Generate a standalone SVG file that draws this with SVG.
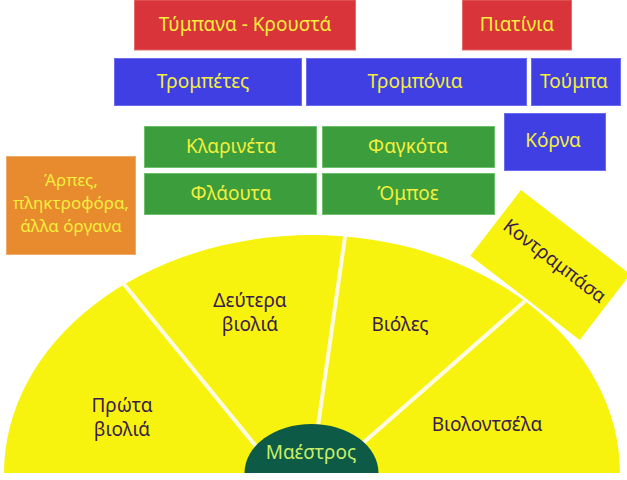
<svg xmlns="http://www.w3.org/2000/svg" width="627" height="480" viewBox="0 0 627 480">
<style>
text{font-family:"Noto Sans","DejaVu Sans",sans-serif;text-anchor:middle}
.lt{fill:#f3ef3c;font-size:19px}
.dk{fill:#3a1c4c;font-size:19px}
.red{fill:#d9343a;stroke:#e46a6a;stroke-width:1}
.blue{fill:#3f3fe4;stroke:#6b6bf0;stroke-width:1}
.green{fill:#3b9d3c;stroke:#6cc06c;stroke-width:1}
.orange{fill:#e88a2e;stroke:#f0aa66;stroke-width:1}
.yel{fill:#f7f30f}
.div{stroke:#fffbe2;stroke-width:4;stroke-linecap:round}
.or{fill:#f3ef3c;font-size:17px}
</style>
<rect width="627" height="480" fill="#ffffff"/>
<g id="timpana"><rect class="red" x="134.5" y="0" width="221" height="50"/><text class="lt" x="245" y="31" font-size="20">Τύμπανα - Κρουστά</text></g>
<g id="piatinia"><rect class="red" x="462.5" y="0" width="109" height="50"/><text class="lt" x="517" y="31">Πιατίνια</text></g>
<g id="trompetes"><rect class="blue" x="114.5" y="58.5" width="187" height="47"/><text class="lt" x="203" y="88">Τρομπέτες</text></g>
<g id="trombonia"><rect class="blue" x="306.5" y="58.5" width="220" height="47"/><text class="lt" x="415" y="88">Τρομπόνια</text></g>
<g id="touba"><rect class="blue" x="531.5" y="58.5" width="89" height="47"/><text class="lt" x="574" y="88">Τούμπα</text></g>
<g id="korna"><rect class="blue" x="504.5" y="113.5" width="101" height="57"/><text class="lt" x="553" y="147">Κόρνα</text></g>
<g id="klarineta"><rect class="green" x="144.5" y="126.5" width="172" height="41"/><text class="lt" x="231" y="153">Κλαρινέτα</text></g>
<g id="fagkota"><rect class="green" x="322.5" y="126.5" width="172" height="41"/><text class="lt" x="408" y="153">Φαγκότα</text></g>
<g id="flaouta"><rect class="green" x="144.5" y="173.5" width="172" height="41"/><text class="lt" x="231" y="200">Φλάουτα</text></g>
<g id="oboe"><rect class="green" x="322.5" y="173.5" width="172" height="41"/><text class="lt" x="408" y="200">Όμποε</text></g>
<g id="arpes"><rect class="orange" x="6.5" y="156.5" width="129" height="98"/>
<text class="or" x="71" y="186">Άρπες,</text>
<text class="or" x="71" y="209">πληκτροφόρα,</text>
<text class="or" x="71" y="232">άλλα όργανα</text></g>
<g id="kontrabasa" transform="translate(521,190) rotate(37.6)"><rect class="yel" x="0" y="0" width="138" height="83"/><text class="dk" x="70" y="42">Κοντραμπάσα</text></g>
<g id="stage"><path class="yel" d="M4 473 A308 238 0 0 1 620 473 Z"/></g>
<g id="dividers">
<line class="div" x1="123" y1="283" x2="255" y2="445"/>
<line class="div" x1="345" y1="237" x2="318" y2="426"/>
<line class="div" x1="524" y1="302" x2="363" y2="443"/>
</g>
<g id="prota"><text class="dk" x="122" y="412">Πρώτα</text><text class="dk" x="122" y="436">βιολιά</text></g>
<g id="deutera"><text class="dk" x="250" y="307">Δεύτερα</text><text class="dk" x="250" y="331">βιολιά</text></g>
<g id="violes"><text class="dk" x="400" y="331">Βιόλες</text></g>
<g id="violontsela"><text class="dk" x="487" y="431">Βιολοντσέλα</text></g>
<g id="maestros"><path fill="#0d5a46" d="M244.5 473 A67 49 0 0 1 378.5 473 Z"/><text x="311" y="459" fill="#c6ef6a" font-size="19">Μαέστρος</text></g>
</svg>
